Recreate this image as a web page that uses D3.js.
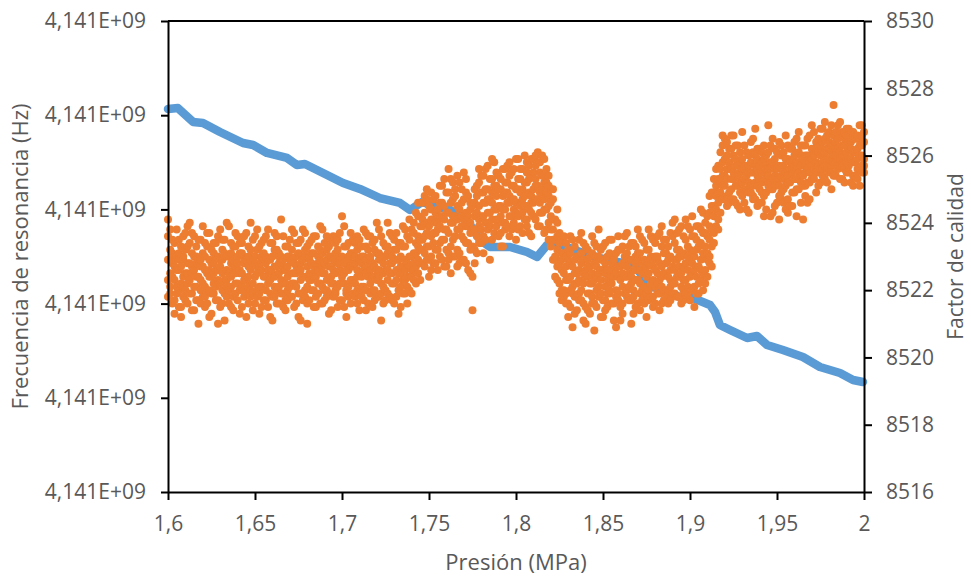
<!DOCTYPE html>
<html>
<head>
<meta charset="utf-8">
<script src="https://d3js.org/d3.v7.min.js"></script>
<style>
  body { margin: 0; background: #fff; }
  text { font-family: "Open Sans", sans-serif; fill: #595959; }
</style>
</head>
<body>
<script>
// frequency (blue)
var freqPressure = [1.6000, 1.6057, 1.6144, 1.6201, 1.6299, 1.6431, 1.6489, 1.6569, 1.6684, 1.6741,
  1.6787, 1.6914, 1.7006, 1.7103, 1.7218, 1.7333, 1.7391, 1.7460, 1.7546, 1.7621,
  1.7718, 1.7793, 1.7851, 1.7966, 1.8063, 1.8121, 1.8178, 1.8213, 1.8385, 1.8523,
  1.8672, 1.8787, 1.8943, 1.9017, 1.9115, 1.9144, 1.9172, 1.9230, 1.9328, 1.9385,
  1.9443, 1.9534, 1.9649, 1.9747, 1.9862, 1.9937, 1.9994];
var freqHz = [4140906600, 4140907600, 4140892800, 4140891700, 4140882200, 4140870500, 4140868400, 4140859900, 4140854600, 4140847100,
  4140848200, 4140836500, 4140828000, 4140821700, 4140812100, 4140806800, 4140799400, 4140807900, 4140802500, 4140799400,
  4140788700, 4140767500, 4140760100, 4140760100, 4140754800, 4140749500, 4140762200, 4140765400, 4140753700, 4140746300,
  4140741000, 4140717600, 4140707000, 4140705900, 4140698500, 4140691100, 4140677300, 4140672000, 4140663500, 4140665600,
  4140656100, 4140650700, 4140643300, 4140632700, 4140626300, 4140618900, 4140616800];

// quality factor (orange): one row of readings per pressure step
var qPressure = [1.6000, 1.6025, 1.6050, 1.6075, 1.6100, 1.6125, 1.6150, 1.6175, 1.6200, 1.6225,
  1.6250, 1.6275, 1.6300, 1.6325, 1.6350, 1.6375, 1.6400, 1.6425, 1.6450, 1.6475,
  1.6500, 1.6525, 1.6550, 1.6575, 1.6600, 1.6625, 1.6650, 1.6675, 1.6700, 1.6725,
  1.6750, 1.6775, 1.6800, 1.6825, 1.6850, 1.6875, 1.6900, 1.6925, 1.6950, 1.6975,
  1.7000, 1.7025, 1.7050, 1.7075, 1.7100, 1.7125, 1.7150, 1.7175, 1.7200, 1.7225,
  1.7250, 1.7275, 1.7300, 1.7325, 1.7350, 1.7375, 1.7400, 1.7425, 1.7450, 1.7475,
  1.7500, 1.7525, 1.7550, 1.7575, 1.7600, 1.7625, 1.7650, 1.7675, 1.7700, 1.7725,
  1.7750, 1.7775, 1.7800, 1.7825, 1.7850, 1.7875, 1.7900, 1.7925, 1.7950, 1.7975,
  1.8000, 1.8025, 1.8050, 1.8075, 1.8100, 1.8125, 1.8150, 1.8175, 1.8200, 1.8225,
  1.8250, 1.8275, 1.8300, 1.8325, 1.8350, 1.8375, 1.8400, 1.8425, 1.8450, 1.8475,
  1.8500, 1.8525, 1.8550, 1.8575, 1.8600, 1.8625, 1.8650, 1.8675, 1.8700, 1.8725,
  1.8750, 1.8775, 1.8800, 1.8825, 1.8850, 1.8875, 1.8900, 1.8925, 1.8950, 1.8975,
  1.9000, 1.9025, 1.9050, 1.9075, 1.9100, 1.9125, 1.9150, 1.9175, 1.9200, 1.9225,
  1.9250, 1.9275, 1.9300, 1.9325, 1.9350, 1.9375, 1.9400, 1.9425, 1.9450, 1.9475,
  1.9500, 1.9525, 1.9550, 1.9575, 1.9600, 1.9625, 1.9650, 1.9675, 1.9700, 1.9725,
  1.9750, 1.9775, 1.9800, 1.9825, 1.9850, 1.9875, 1.9900, 1.9925, 1.9950, 1.9975,
  2.0000];
var qValues = [
  [8522.9, 8523.6, 8521.8, 8522.3, 8524.1], [8522.4, 8523.1, 8521.6, 8522.8, 8523.5], [8523.0, 8522.1, 8521.9, 8523.8, 8522.6],
  [8522.2, 8523.3, 8521.5, 8522.7, 8521.2], [8523.7, 8522.5, 8522.0, 8523.2, 8521.7], [8522.8, 8521.9, 8523.4, 8522.3, 8524.0],
  [8521.4, 8522.6, 8523.0, 8522.1, 8523.6], [8522.9, 8523.5, 8521.7, 8522.4, 8521.0], [8523.1, 8522.2, 8521.8, 8523.9, 8522.7],
  [8522.5, 8523.3, 8521.6, 8522.0, 8523.7], [8521.9, 8522.8, 8523.2, 8522.4, 8521.3], [8523.4, 8522.1, 8522.6, 8521.7, 8523.0],
  [8522.7, 8523.8, 8521.5, 8522.9, 8522.2], [8522.3, 8523.1, 8521.9, 8523.5, 8521.1], [8523.0, 8522.5, 8521.6, 8522.0, 8523.9],
  [8522.6, 8521.8, 8523.3, 8522.9, 8521.4], [8523.6, 8522.2, 8521.7, 8523.0, 8522.8], [8522.1, 8523.4, 8522.5, 8521.5, 8523.1],
  [8522.9, 8521.9, 8523.7, 8522.3, 8521.2], [8523.2, 8522.6, 8521.8, 8524.0, 8522.0], [8522.4, 8523.0, 8521.6, 8522.8, 8523.6],
  [8521.9, 8523.3, 8522.7, 8522.1, 8521.3], [8523.5, 8522.4, 8521.7, 8523.1, 8522.9], [8522.2, 8522.9, 8523.8, 8521.5, 8522.6],
  [8523.0, 8521.8, 8522.5, 8523.4, 8521.1], [8522.7, 8523.6, 8522.0, 8521.6, 8523.2], [8522.3, 8521.9, 8523.0, 8522.8, 8524.1],
  [8523.3, 8522.6, 8521.7, 8522.2, 8521.4], [8522.1, 8523.5, 8522.9, 8521.8, 8523.0], [8522.8, 8522.2, 8523.7, 8521.5, 8522.5],
  [8523.1, 8521.9, 8522.6, 8523.4, 8521.2], [8522.4, 8523.0, 8521.7, 8522.9, 8523.8], [8521.6, 8522.7, 8523.3, 8522.1, 8521.0],
  [8523.5, 8522.3, 8522.0, 8523.1, 8522.8], [8522.6, 8521.8, 8523.6, 8522.4, 8521.5], [8522.9, 8523.2, 8521.6, 8522.2, 8523.9],
  [8522.0, 8522.8, 8523.4, 8521.7, 8522.5], [8523.3, 8521.9, 8522.7, 8523.0, 8521.3], [8522.2, 8523.6, 8521.8, 8522.6, 8522.9],
  [8522.8, 8522.1, 8523.2, 8521.5, 8523.5], [8523.0, 8522.4, 8521.7, 8522.9, 8524.2], [8521.9, 8523.3, 8522.6, 8522.0, 8521.2],
  [8522.7, 8523.7, 8521.6, 8523.1, 8522.3], [8523.4, 8522.2, 8522.8, 8521.8, 8523.0], [8522.5, 8521.9, 8523.5, 8522.9, 8521.4],
  [8522.1, 8523.0, 8522.6, 8523.8, 8521.7], [8523.2, 8522.4, 8521.6, 8522.7, 8523.6], [8522.8, 8523.4, 8522.0, 8521.5, 8522.4],
  [8522.3, 8521.8, 8523.1, 8522.6, 8524.0], [8523.6, 8522.9, 8521.9, 8522.2, 8521.1], [8522.6, 8523.3, 8522.0, 8523.0, 8521.7],
  [8523.1, 8522.5, 8521.8, 8523.7, 8522.8], [8522.2, 8523.5, 8522.9, 8521.6, 8523.2], [8522.9, 8522.0, 8523.4, 8522.5, 8521.3],
  [8523.3, 8522.7, 8521.9, 8523.9, 8522.3], [8522.4, 8523.6, 8522.1, 8522.8, 8521.6], [8523.0, 8522.6, 8523.8, 8521.9, 8522.4],
  [8522.7, 8523.4, 8522.2, 8523.1, 8524.3], [8523.2, 8522.8, 8523.9, 8522.3, 8523.5], [8523.6, 8524.3, 8522.7, 8523.1, 8524.8],
  [8523.9, 8522.9, 8524.5, 8523.3, 8522.4], [8524.1, 8523.4, 8522.8, 8524.7, 8523.7], [8523.2, 8524.4, 8523.8, 8522.6, 8524.0],
  [8524.6, 8523.5, 8522.9, 8524.2, 8525.1], [8523.8, 8524.9, 8523.2, 8522.7, 8524.3], [8524.0, 8523.3, 8524.6, 8525.3, 8522.5],
  [8523.6, 8524.8, 8523.0, 8524.2, 8525.0], [8524.4, 8523.1, 8525.2, 8523.8, 8522.8], [8523.5, 8524.7, 8522.9, 8524.1, 8525.5],
  [8524.2, 8523.4, 8522.6, 8523.9, 8524.8], [8523.3, 8524.5, 8523.8, 8522.4, 8521.4], [8524.3, 8525.1, 8523.6, 8524.8, 8523.1],
  [8524.9, 8523.8, 8525.4, 8524.2, 8523.4], [8524.6, 8525.6, 8524.0, 8523.5, 8525.0], [8523.9, 8524.7, 8525.3, 8524.3, 8522.9],
  [8525.1, 8524.4, 8523.7, 8525.8, 8524.9], [8524.5, 8525.4, 8524.1, 8523.6, 8525.0], [8524.0, 8524.8, 8525.6, 8523.3, 8524.4],
  [8525.2, 8524.6, 8523.9, 8524.9, 8525.7], [8524.7, 8525.5, 8524.2, 8523.8, 8525.1], [8524.3, 8525.0, 8525.9, 8524.6, 8523.5],
  [8525.3, 8524.5, 8523.9, 8524.9, 8525.6], [8524.8, 8525.2, 8524.1, 8526.0, 8524.5], [8524.4, 8525.7, 8524.9, 8523.7, 8525.3],
  [8525.0, 8524.6, 8525.5, 8524.2, 8525.9], [8524.7, 8525.8, 8525.1, 8523.9, 8526.1], [8525.4, 8524.8, 8526.0, 8525.0, 8524.3],
  [8524.9, 8525.6, 8524.4, 8525.2, 8523.8], [8524.6, 8523.8, 8525.0, 8523.3, 8524.2], [8523.5, 8522.9, 8524.1, 8523.0, 8522.4],
  [8522.8, 8523.4, 8522.2, 8521.9, 8523.7], [8522.5, 8521.8, 8523.1, 8522.0, 8523.6], [8522.3, 8522.9, 8521.6, 8523.2, 8521.2],
  [8522.7, 8521.9, 8523.5, 8522.1, 8520.9], [8521.8, 8522.5, 8523.0, 8522.2, 8521.4], [8523.1, 8522.0, 8521.7, 8522.8, 8523.7],
  [8522.4, 8523.3, 8521.5, 8522.6, 8521.0], [8521.9, 8522.7, 8522.2, 8523.0, 8521.3], [8522.8, 8521.6, 8523.4, 8522.3, 8520.8],
  [8522.1, 8523.0, 8522.5, 8521.8, 8523.8], [8522.6, 8521.7, 8522.9, 8523.3, 8521.2], [8523.0, 8522.3, 8521.9, 8522.6, 8521.5],
  [8522.2, 8522.8, 8523.5, 8521.6, 8522.4], [8521.8, 8522.5, 8523.1, 8522.0, 8520.9], [8522.7, 8523.2, 8521.5, 8522.3, 8521.1],
  [8522.4, 8521.9, 8523.0, 8522.8, 8523.6], [8523.3, 8522.1, 8521.7, 8522.5, 8522.9], [8522.0, 8522.6, 8523.4, 8521.8, 8521.3],
  [8522.9, 8521.6, 8522.3, 8523.1, 8523.8], [8522.5, 8523.5, 8522.0, 8521.7, 8522.8], [8521.9, 8522.7, 8523.2, 8522.4, 8521.2],
  [8523.0, 8522.2, 8521.8, 8522.9, 8523.6], [8522.6, 8523.4, 8521.6, 8522.1, 8523.0], [8522.3, 8521.9, 8522.8, 8523.7, 8521.4],
  [8523.1, 8522.5, 8522.0, 8521.7, 8523.5], [8522.0, 8522.9, 8523.3, 8522.4, 8521.6], [8522.7, 8523.6, 8521.9, 8522.2, 8524.0],
  [8523.2, 8522.4, 8521.8, 8522.9, 8523.7], [8522.5, 8523.0, 8522.1, 8521.6, 8523.9], [8522.8, 8523.5, 8522.3, 8521.9, 8524.1],
  [8522.4, 8523.2, 8522.9, 8521.7, 8523.8], [8523.0, 8522.6, 8523.6, 8522.1, 8521.5], [8522.7, 8523.3, 8522.2, 8523.9, 8521.9],
  [8523.1, 8522.5, 8523.7, 8522.0, 8524.3], [8522.9, 8523.6, 8524.2, 8523.1, 8522.4], [8523.8, 8524.5, 8523.3, 8524.9, 8522.7],
  [8524.4, 8525.1, 8523.9, 8525.6, 8524.8], [8524.9, 8525.6, 8524.3, 8526.1, 8525.2], [8525.4, 8525.9, 8524.7, 8526.5, 8525.1],
  [8525.6, 8526.2, 8524.9, 8525.8, 8524.6], [8526.0, 8525.3, 8526.6, 8524.7, 8525.5], [8525.1, 8525.7, 8526.3, 8525.4, 8524.5],
  [8525.9, 8525.2, 8525.6, 8526.7, 8524.8], [8525.4, 8526.1, 8525.0, 8525.7, 8524.4], [8525.8, 8524.9, 8526.4, 8525.5, 8525.1],
  [8525.2, 8526.0, 8524.7, 8526.8, 8525.7], [8525.7, 8525.3, 8526.2, 8524.6, 8525.0], [8525.5, 8526.3, 8524.8, 8525.9, 8524.2],
  [8526.1, 8525.1, 8525.6, 8526.9, 8525.4], [8525.0, 8525.8, 8526.5, 8525.3, 8524.3], [8525.7, 8525.2, 8526.1, 8525.6, 8524.6],
  [8525.4, 8526.0, 8524.9, 8526.3, 8524.7], [8525.9, 8525.5, 8526.6, 8525.1, 8524.4], [8525.2, 8526.2, 8525.6, 8525.8, 8524.5],
  [8525.7, 8525.3, 8526.4, 8524.9, 8526.0], [8525.5, 8526.1, 8525.0, 8526.7, 8525.8], [8525.9, 8525.4, 8524.1, 8526.3, 8525.1],
  [8525.6, 8526.5, 8525.2, 8526.0, 8524.6], [8526.2, 8525.7, 8526.9, 8525.3, 8525.9], [8525.8, 8526.4, 8525.5, 8526.1, 8524.9],
  [8526.3, 8525.6, 8526.8, 8526.0, 8525.2], [8525.7, 8526.5, 8526.1, 8525.3, 8527.0], [8526.4, 8525.9, 8525.5, 8526.7, 8526.2],
  [8526.0, 8525.4, 8526.6, 8525.8, 8527.5], [8526.2, 8526.9, 8525.6, 8526.5, 8525.9], [8525.7, 8526.3, 8526.7, 8525.3, 8526.0],
  [8526.1, 8525.5, 8526.6, 8525.8, 8526.8], [8526.4, 8525.9, 8525.2, 8526.2, 8526.7], [8525.8, 8526.5, 8526.1, 8525.4, 8526.6],
  [8526.3, 8525.6, 8526.9, 8526.0, 8525.1], [8525.9, 8526.4, 8525.7, 8526.7, 8525.5]
];

// readings taken between the steps above
var qPressureMid = [1.60125, 1.60375, 1.60625, 1.60875, 1.61125, 1.61375, 1.61625, 1.61875, 1.62125, 1.62375,
  1.62625, 1.62875, 1.63125, 1.63375, 1.63625, 1.63875, 1.64125, 1.64375, 1.64625, 1.64875,
  1.65125, 1.65375, 1.65625, 1.65875, 1.66125, 1.66375, 1.66625, 1.66875, 1.67125, 1.67375,
  1.67625, 1.67875, 1.68125, 1.68375, 1.68625, 1.68875, 1.69125, 1.69375, 1.69625, 1.69875,
  1.70125, 1.70375, 1.70625, 1.70875, 1.71125, 1.71375, 1.71625, 1.71875, 1.72125, 1.72375,
  1.72625, 1.72875, 1.73125, 1.73375, 1.73625, 1.73875, 1.74125, 1.74375, 1.74625, 1.74875,
  1.75125, 1.75375, 1.75625, 1.75875, 1.76125, 1.76375, 1.76625, 1.76875, 1.77125, 1.77375,
  1.77625, 1.77875, 1.78125, 1.78375, 1.78625, 1.78875, 1.79125, 1.79375, 1.79625, 1.79875,
  1.80125, 1.80375, 1.80625, 1.80875, 1.81125, 1.81375, 1.81625, 1.81875, 1.82125, 1.82375,
  1.82625, 1.82875, 1.83125, 1.83375, 1.83625, 1.83875, 1.84125, 1.84375, 1.84625, 1.84875,
  1.85125, 1.85375, 1.85625, 1.85875, 1.86125, 1.86375, 1.86625, 1.86875, 1.87125, 1.87375,
  1.87625, 1.87875, 1.88125, 1.88375, 1.88625, 1.88875, 1.89125, 1.89375, 1.89625, 1.89875,
  1.90125, 1.90375, 1.90625, 1.90875, 1.91125, 1.91375, 1.91625, 1.91875, 1.92125, 1.92375,
  1.92625, 1.92875, 1.93125, 1.93375, 1.93625, 1.93875, 1.94125, 1.94375, 1.94625, 1.94875,
  1.95125, 1.95375, 1.95625, 1.95875, 1.96125, 1.96375, 1.96625, 1.96875, 1.97125, 1.97375,
  1.97625, 1.97875, 1.98125, 1.98375, 1.98625, 1.98875, 1.99125, 1.99375, 1.99625, 1.99875];
var qValuesMid = [
  [8522.5, 8523.2, 8521.9, 8522.9, 8523.8, 8522.1], [8523.0, 8522.3, 8521.7, 8522.7, 8523.4, 8521.3],
  [8522.6, 8523.5, 8522.0, 8521.5, 8522.9, 8523.1], [8522.9, 8521.8, 8523.6, 8522.4, 8522.1, 8523.0],
  [8522.2, 8522.8, 8523.3, 8521.6, 8523.9, 8522.5], [8523.1, 8522.5, 8521.9, 8522.7, 8521.4, 8523.7],
  [8522.4, 8523.3, 8522.8, 8521.7, 8522.1, 8523.0], [8522.7, 8522.0, 8523.5, 8522.3, 8521.6, 8522.9],
  [8523.4, 8522.6, 8521.5, 8522.1, 8523.0, 8521.8], [8522.0, 8522.9, 8523.7, 8522.4, 8521.2, 8522.6],
  [8522.8, 8523.4, 8522.2, 8521.9, 8523.1, 8522.5], [8522.3, 8521.7, 8523.0, 8523.6, 8522.6, 8521.0],
  [8523.2, 8522.5, 8522.0, 8521.6, 8522.9, 8523.5], [8522.6, 8523.0, 8522.3, 8521.8, 8524.0, 8522.1],
  [8522.1, 8522.8, 8523.4, 8522.4, 8521.5, 8523.1], [8523.3, 8522.2, 8521.9, 8522.7, 8523.7, 8522.5],
  [8522.5, 8523.1, 8522.6, 8521.3, 8522.0, 8523.4], [8522.8, 8522.0, 8523.6, 8522.3, 8521.8, 8522.9],
  [8523.0, 8522.4, 8521.6, 8523.3, 8522.7, 8522.1], [8522.2, 8523.5, 8522.8, 8521.9, 8523.0, 8521.4],
  [8522.7, 8521.8, 8523.2, 8522.5, 8522.0, 8523.8], [8523.4, 8522.6, 8522.1, 8521.5, 8522.9, 8523.0],
  [8522.0, 8523.0, 8522.4, 8522.8, 8521.7, 8523.6], [8522.9, 8522.3, 8521.9, 8523.4, 8522.6, 8521.2],
  [8522.4, 8523.2, 8522.7, 8521.8, 8523.7, 8522.1], [8523.1, 8522.1, 8521.6, 8522.5, 8523.0, 8522.8],
  [8522.6, 8523.6, 8522.2, 8521.9, 8522.9, 8521.5], [8522.0, 8522.7, 8523.3, 8522.4, 8521.7, 8523.0],
  [8523.2, 8522.5, 8521.8, 8522.9, 8523.8, 8522.2], [8522.5, 8523.0, 8522.1, 8521.6, 8522.7, 8523.4],
  [8522.8, 8522.3, 8523.5, 8521.9, 8522.6, 8521.1], [8523.0, 8521.8, 8522.4, 8523.2, 8522.0, 8523.7],
  [8522.3, 8523.4, 8522.9, 8521.7, 8522.5, 8523.0], [8522.7, 8522.0, 8523.1, 8522.4, 8521.5, 8523.6],
  [8523.3, 8522.6, 8521.9, 8522.8, 8523.0, 8522.2], [8522.1, 8523.1, 8522.5, 8521.6, 8523.8, 8522.7],
  [8522.9, 8522.3, 8523.6, 8522.0, 8521.8, 8523.2], [8522.4, 8523.0, 8522.7, 8521.4, 8522.2, 8523.5],
  [8523.1, 8522.5, 8521.9, 8522.9, 8523.4, 8522.0], [8522.6, 8523.7, 8522.2, 8521.7, 8523.0, 8522.8],
  [8522.2, 8522.8, 8523.3, 8522.5, 8521.5, 8523.9], [8523.4, 8522.1, 8522.6, 8523.0, 8521.8, 8522.9],
  [8522.8, 8523.5, 8521.9, 8522.3, 8522.7, 8523.1], [8522.0, 8522.6, 8523.2, 8521.6, 8523.6, 8522.4],
  [8523.0, 8522.4, 8521.8, 8522.8, 8523.3, 8522.1], [8522.5, 8523.3, 8522.9, 8522.0, 8521.4, 8523.7],
  [8522.9, 8522.2, 8523.6, 8522.6, 8521.9, 8523.0], [8523.2, 8522.7, 8522.0, 8523.5, 8522.4, 8521.7],
  [8522.4, 8523.1, 8522.6, 8521.8, 8523.8, 8522.9], [8522.8, 8522.1, 8523.4, 8522.5, 8521.6, 8523.0],
  [8523.1, 8522.6, 8521.9, 8523.3, 8522.3, 8524.0], [8522.5, 8523.6, 8522.2, 8522.8, 8521.7, 8523.0],
  [8522.9, 8522.3, 8523.2, 8521.8, 8523.7, 8522.6], [8523.4, 8522.7, 8522.1, 8523.0, 8522.5, 8521.5],
  [8522.6, 8523.3, 8522.9, 8521.9, 8523.8, 8522.3], [8523.0, 8522.4, 8523.5, 8522.7, 8522.0, 8524.1],
  [8522.8, 8523.7, 8522.3, 8523.1, 8524.0, 8522.6], [8523.3, 8522.9, 8524.2, 8523.6, 8522.5, 8524.6],
  [8523.5, 8524.1, 8522.8, 8523.9, 8524.6, 8523.2], [8524.0, 8523.3, 8524.7, 8522.9, 8523.7, 8525.0],
  [8523.6, 8524.4, 8523.0, 8524.9, 8522.6, 8524.1], [8524.3, 8523.7, 8524.8, 8523.2, 8522.8, 8524.0],
  [8523.9, 8524.6, 8523.4, 8525.1, 8523.0, 8524.2], [8524.5, 8523.8, 8522.7, 8524.1, 8525.3, 8523.5],
  [8523.7, 8524.9, 8524.3, 8523.1, 8525.6, 8522.9], [8524.2, 8523.5, 8524.7, 8525.2, 8523.0, 8524.0],
  [8523.8, 8524.5, 8523.2, 8525.4, 8524.1, 8522.7], [8524.6, 8523.6, 8525.0, 8524.2, 8522.9, 8523.9],
  [8523.4, 8524.3, 8522.8, 8524.9, 8523.9, 8525.3], [8524.0, 8523.2, 8524.6, 8522.5, 8523.7, 8524.4],
  [8523.8, 8524.6, 8523.2, 8525.0, 8524.2, 8522.8], [8524.5, 8525.2, 8523.9, 8524.1, 8525.6, 8523.4],
  [8524.2, 8524.9, 8523.6, 8525.4, 8524.6, 8523.1], [8525.0, 8524.3, 8523.8, 8524.7, 8525.7, 8524.0],
  [8524.6, 8525.3, 8524.1, 8523.5, 8524.9, 8525.9], [8524.1, 8524.8, 8525.5, 8523.9, 8524.4, 8525.1],
  [8525.0, 8524.5, 8523.7, 8525.3, 8524.2, 8523.3], [8524.4, 8525.6, 8524.9, 8524.0, 8525.2, 8523.8],
  [8524.8, 8524.2, 8525.4, 8523.6, 8524.6, 8525.8], [8525.1, 8524.0, 8524.7, 8525.6, 8523.9, 8524.4],
  [8524.6, 8525.3, 8524.2, 8523.8, 8525.0, 8525.9], [8524.3, 8525.0, 8525.6, 8524.7, 8523.7, 8524.9],
  [8525.2, 8524.5, 8523.9, 8525.5, 8524.1, 8525.8], [8524.8, 8525.4, 8524.3, 8525.9, 8524.6, 8523.6],
  [8525.1, 8524.7, 8525.7, 8524.1, 8525.3, 8526.0], [8524.6, 8525.5, 8524.9, 8525.8, 8524.3, 8523.9],
  [8525.2, 8524.7, 8525.9, 8524.4, 8525.4, 8523.7], [8524.8, 8525.4, 8524.0, 8525.1, 8523.5, 8524.5],
  [8524.1, 8523.5, 8524.7, 8522.9, 8523.8, 8525.0], [8523.2, 8524.0, 8522.7, 8523.6, 8522.3, 8524.4],
  [8522.6, 8523.1, 8522.0, 8523.5, 8521.7, 8522.9], [8522.3, 8523.0, 8521.6, 8522.7, 8523.4, 8521.9],
  [8522.0, 8522.8, 8523.1, 8521.5, 8522.4, 8523.6], [8522.5, 8521.8, 8522.9, 8523.3, 8521.3, 8522.2],
  [8523.0, 8522.3, 8521.7, 8522.6, 8523.5, 8521.9], [8522.2, 8522.9, 8523.4, 8521.6, 8522.5, 8521.1],
  [8522.7, 8521.9, 8522.4, 8523.2, 8521.4, 8522.9], [8523.1, 8522.5, 8521.8, 8522.2, 8523.6, 8521.6],
  [8522.4, 8523.0, 8522.7, 8521.5, 8522.0, 8523.3], [8521.9, 8522.6, 8523.2, 8522.3, 8521.2, 8522.9],
  [8522.8, 8522.1, 8521.7, 8523.4, 8522.5, 8521.4], [8522.3, 8523.1, 8522.6, 8521.9, 8522.0, 8523.5],
  [8522.6, 8521.6, 8523.0, 8522.4, 8521.1, 8522.9], [8523.2, 8522.4, 8521.9, 8522.7, 8523.6, 8521.7],
  [8522.1, 8522.8, 8523.3, 8521.6, 8522.5, 8521.3], [8522.7, 8522.0, 8522.4, 8523.1, 8521.8, 8523.7],
  [8522.4, 8523.4, 8521.7, 8522.9, 8522.2, 8521.0], [8523.0, 8522.3, 8522.8, 8521.5, 8523.3, 8522.6],
  [8522.2, 8521.9, 8523.1, 8522.6, 8521.4, 8523.6], [8522.9, 8522.5, 8521.8, 8523.4, 8522.1, 8521.6],
  [8522.5, 8523.2, 8522.0, 8521.7, 8522.8, 8523.8], [8521.8, 8522.7, 8523.5, 8522.3, 8521.5, 8522.9],
  [8522.9, 8522.2, 8521.9, 8523.0, 8523.6, 8522.5], [8522.4, 8523.3, 8522.7, 8521.6, 8522.1, 8523.9],
  [8523.1, 8522.0, 8522.5, 8523.5, 8521.8, 8522.8], [8522.6, 8523.0, 8521.7, 8522.3, 8523.7, 8522.1],
  [8522.2, 8522.9, 8523.4, 8521.9, 8522.6, 8524.1], [8523.0, 8522.4, 8521.8, 8523.2, 8522.7, 8523.8],
  [8522.7, 8523.6, 8522.3, 8521.7, 8523.1, 8522.0], [8523.3, 8522.6, 8523.9, 8522.1, 8521.8, 8523.0],
  [8522.5, 8523.1, 8522.8, 8523.6, 8522.0, 8524.2], [8523.2, 8522.7, 8523.5, 8521.9, 8522.4, 8523.9],
  [8522.9, 8523.4, 8522.3, 8523.8, 8522.6, 8524.4], [8523.0, 8523.7, 8522.6, 8524.0, 8523.3, 8522.2],
  [8523.5, 8524.3, 8523.0, 8524.8, 8522.8, 8523.9], [8524.2, 8524.9, 8523.7, 8525.3, 8524.5, 8523.4],
  [8524.6, 8525.3, 8524.1, 8525.7, 8524.9, 8523.8], [8525.1, 8525.8, 8524.7, 8526.3, 8525.4, 8526.6],
  [8525.3, 8526.0, 8524.8, 8525.6, 8526.4, 8524.5], [8525.0, 8525.6, 8526.2, 8524.7, 8525.3, 8526.6],
  [8525.7, 8525.1, 8524.6, 8525.9, 8525.4, 8526.3], [8525.2, 8525.8, 8525.5, 8524.4, 8526.1, 8524.9],
  [8525.6, 8525.0, 8526.3, 8525.3, 8524.6, 8525.7], [8524.9, 8525.7, 8525.2, 8526.0, 8525.5, 8524.3],
  [8525.5, 8524.8, 8526.1, 8525.1, 8526.5, 8524.7], [8525.1, 8525.9, 8525.4, 8524.5, 8525.6, 8526.2],
  [8525.8, 8525.2, 8524.6, 8525.5, 8526.1, 8524.9], [8525.3, 8526.0, 8524.9, 8525.7, 8524.4, 8525.6],
  [8525.0, 8525.6, 8526.3, 8525.2, 8525.8, 8524.2], [8525.6, 8525.1, 8525.9, 8524.5, 8525.4, 8526.2],
  [8525.3, 8525.7, 8524.8, 8526.4, 8525.1, 8524.1], [8525.7, 8525.0, 8525.5, 8526.1, 8524.6, 8525.3],
  [8525.2, 8525.9, 8524.7, 8525.4, 8526.3, 8524.3], [8525.5, 8524.9, 8526.2, 8525.6, 8524.5, 8525.8],
  [8525.8, 8525.3, 8525.0, 8526.5, 8525.6, 8524.2], [8525.4, 8526.0, 8525.2, 8525.7, 8524.6, 8526.3],
  [8525.7, 8525.1, 8526.3, 8525.5, 8526.0, 8524.8], [8526.0, 8525.5, 8526.6, 8525.2, 8525.8, 8524.7],
  [8525.6, 8526.2, 8525.8, 8526.7, 8525.3, 8526.0], [8526.1, 8525.5, 8526.5, 8525.7, 8525.1, 8526.3],
  [8525.8, 8526.4, 8525.4, 8526.1, 8526.8, 8525.6], [8526.2, 8525.6, 8525.9, 8526.6, 8525.2, 8525.7],
  [8525.7, 8526.3, 8526.9, 8525.5, 8526.1, 8525.0], [8526.4, 8525.8, 8525.4, 8526.2, 8526.7, 8526.0],
  [8525.9, 8526.6, 8526.1, 8525.3, 8525.7, 8527.0], [8526.3, 8525.6, 8526.0, 8526.7, 8525.2, 8526.5],
  [8525.7, 8526.2, 8526.8, 8525.9, 8525.5, 8526.4], [8526.1, 8525.4, 8526.5, 8525.8, 8526.7, 8525.1],
  [8526.5, 8525.9, 8525.3, 8526.2, 8526.6, 8525.6], [8526.0, 8526.6, 8525.5, 8526.3, 8526.9, 8525.7]
];

var xTicks = [1.6, 1.65, 1.7, 1.75, 1.8, 1.85, 1.9, 1.95, 2];
var leftTicks = [4140500000, 4140600000, 4140700000, 4140800000, 4140900000, 4141000000];
var rightTicks = [8516, 8518, 8520, 8522, 8524, 8526, 8528, 8530];

var w = 971;
var h = 579;
var margin = {top: 21, right: 107, bottom: 87, left: 168};
var iw = w - margin.left - margin.right;
var ih = h - margin.top - margin.bottom;

var blue = "#5B9BD5";
var orange = "#ED7D31";

var es = d3.formatLocale({decimal: ",", thousands: ".", grouping: [3], currency: ["", " €"]});
var fmtX = es.format("~g");
var fmtSci = function(v) {
  // Excel style 4,141E+09
  var s = d3.format(".3e")(v).split("e");
  var ex = +s[1];
  return s[0].replace(".", ",") + "E" + (ex < 0 ? "-" : "+") + d3.format("02d")(Math.abs(ex));
};

var x = d3.scaleLinear().domain([1.6, 2]).range([0, iw]);
var yL = d3.scaleLinear().domain([4140500000, 4141000000]).range([ih, 0]);
var yR = d3.scaleLinear().domain([8516, 8530]).range([ih, 0]);

var svg = d3.select("body")
  .append("svg")
  .attr("width", w)
  .attr("height", h);

var g = svg.append("g")
  .attr("transform", "translate(" + margin.left + "," + margin.top + ")");

// frame top line
g.append("line")
  .attr("x1", 0).attr("x2", iw)
  .attr("y1", 0).attr("y2", 0)
  .attr("stroke", "#000").attr("stroke-width", 2);

// blue series, dense markers -> thick line
var line = d3.line()
  .x(function(d, i) { return x(freqPressure[i]); })
  .y(function(d) { return yL(d); })
  .curve(d3.curveLinear);

g.append("path")
  .datum(freqHz)
  .attr("d", line)
  .attr("fill", "none")
  .attr("stroke", blue)
  .attr("stroke-width", 8.5)
  .attr("stroke-linejoin", "round")
  .attr("stroke-linecap", "round");

// orange scatter
var qPoints = [];
qValues.forEach(function(row, i) {
  row.forEach(function(q) { qPoints.push([qPressure[i], q]); });
  if (i < qValuesMid.length) {
    qValuesMid[i].forEach(function(q) { qPoints.push([qPressureMid[i], q]); });
  }
});

g.append("g").selectAll("circle")
  .data(qPoints)
  .enter()
  .append("circle")
  .attr("cx", function(d) { return x(d[0]); })
  .attr("cy", function(d) { return yR(d[1]); })
  .attr("r", 4)
  .attr("fill", orange);

// axes
function styleAxis(sel) {
  sel.select(".domain").attr("stroke", "#000").attr("stroke-width", 2);
  sel.selectAll(".tick line").attr("stroke", "#000").attr("stroke-width", 2);
  sel.selectAll(".tick text")
    .attr("fill", "#595959")
    .style("font-family", "'Open Sans', sans-serif")
    .style("font-size", "21px");
}

g.append("g")
  .attr("transform", "translate(0," + ih + ")")
  .call(d3.axisBottom(x).tickValues(xTicks).tickFormat(fmtX).tickSizeInner(8).tickSizeOuter(0).tickPadding(16))
  .call(styleAxis);

g.append("g")
  .call(d3.axisLeft(yL).tickValues(leftTicks).tickFormat(fmtSci).tickSizeInner(7).tickSizeOuter(0).tickPadding(15))
  .call(styleAxis);

g.append("g")
  .attr("transform", "translate(" + iw + ",0)")
  .call(d3.axisRight(yR).tickValues(rightTicks).tickFormat(function(d) { return d; }).tickSizeInner(8).tickSizeOuter(0).tickPadding(14))
  .call(styleAxis);

// titles
svg.append("text")
  .attr("x", margin.left + iw / 2)
  .attr("y", 570)
  .attr("text-anchor", "middle")
  .style("font-size", "22px")
  .text("Presión (MPa)");

svg.append("text")
  .attr("transform", "translate(28," + (margin.top + ih / 2) + ") rotate(-90)")
  .attr("text-anchor", "middle")
  .style("font-size", "22px")
  .text("Frecuencia de resonancia (Hz)");

svg.append("text")
  .attr("transform", "translate(963," + (margin.top + ih / 2) + ") rotate(-90)")
  .attr("text-anchor", "middle")
  .style("font-size", "21px")
  .text("Factor de calidad");
</script>
</body>
</html>
